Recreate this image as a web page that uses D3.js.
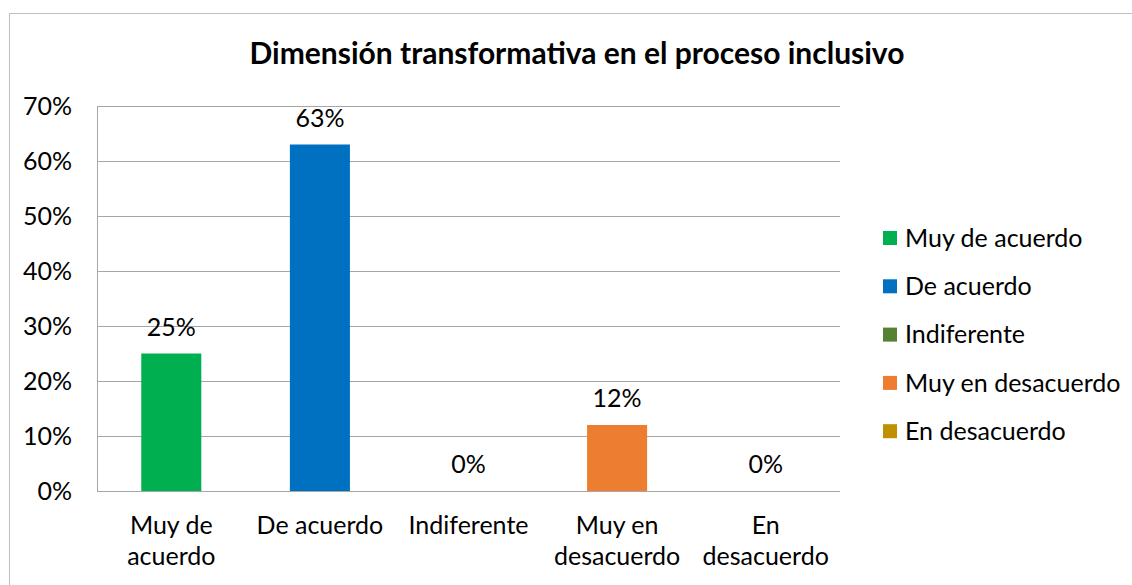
<!doctype html>
<html>
<head>
<meta charset="UTF-8" />
<script src="https://d3js.org/d3.v7.min.js"></script>
<style>
  body { margin: 0; background: #fff; }
  svg text { font-family: Lato, "Open Sans", sans-serif; fill: #000; }
</style>
</head>
<body>
<svg id="chart" width="1132" height="585"></svg>
<script>
  "use strict";

  const categories = [["Muy de", "acuerdo"], ["De acuerdo"], ["Indiferente"], ["Muy en", "desacuerdo"], ["En", "desacuerdo"]];
  const seriesNames = ["Muy de acuerdo", "De acuerdo", "Indiferente", "Muy en desacuerdo", "En desacuerdo"];
  const values = [0.25, 0.63, 0, 0.12, 0];
  const colors = ["#00B050", "#0070C0", "#548235", "#ED7D31", "#BF9000"];
  const yTicks = [0, 0.1, 0.2, 0.3, 0.4, 0.5, 0.6, 0.7];

  const svg = d3.select("#chart");
  const margin = { top: 106, left: 97, right: 292, bottom: 94 };
  const width = 1132 - margin.left - margin.right;
  const height = 585 - margin.top - margin.bottom;

  // outer chart frame
  svg.append("rect")
     .attr("x", 9.5).attr("y", 13.5)
     .attr("width", 1140).attr("height", 600)
     .attr("fill", "none").attr("stroke", "#bfbfbf");

  svg.append("text")
     .attr("x", 577).attr("y", 64)
     .attr("text-anchor", "middle")
     .style("font-size", "30px").style("font-weight", "bold")
     .text("Dimensión transformativa en el proceso inclusivo");

  const g = svg.append("g").attr("transform", `translate(${margin.left},${margin.top})`);

  const x = d3.scaleBand().domain(d3.range(values.length)).range([0, width]);
  const y = d3.scaleLinear().domain([0, 0.7]).range([height, 0]);
  const barW = x.bandwidth() * 0.404;

  // gridlines
  g.append("g")
   .selectAll("line").data(yTicks).enter().append("line")
   .attr("x1", 0).attr("x2", width)
   .attr("y1", d => Math.round(y(d)) + 0.5).attr("y2", d => Math.round(y(d)) + 0.5)
   .attr("stroke", "#a6a6a6").attr("stroke-width", 1);

  // y axis
  const yAxis = g.append("g")
   .call(d3.axisLeft(y).tickValues(yTicks).tickFormat(d3.format(".0%")).tickSize(0).tickPadding(25));
  yAxis.select(".domain").attr("stroke", "#a6a6a6").attr("d", `M0.5,0V${height}`);
  yAxis.selectAll("text").style("font-size", "25px").attr("dy", "0.35em");

  // bars
  g.selectAll(".bar").data(values).enter().append("rect")
   .attr("class", "bar")
   .attr("x", (d, i) => x(i) + (x.bandwidth() - barW) / 2)
   .attr("width", barW)
   .attr("y", d => y(d))
   .attr("height", d => height - y(d))
   .attr("fill", (d, i) => colors[i]);

  // data labels
  g.selectAll(".lbl").data(values).enter().append("text")
   .attr("class", "lbl")
   .attr("x", (d, i) => x(i) + x.bandwidth() / 2)
   .attr("y", d => y(d) - 18)
   .attr("text-anchor", "middle")
   .style("font-size", "25px")
   .text(d => d3.format(".0%")(d));

  // category labels
  const cat = g.selectAll(".cat").data(categories).enter().append("text")
   .attr("class", "cat")
   .attr("text-anchor", "middle")
   .attr("transform", (d, i) => `translate(${x(i) + x.bandwidth() / 2},${height + 43})`)
   .style("font-size", "25px");
  cat.selectAll("tspan").data(d => d).enter().append("tspan")
   .attr("x", 0).attr("y", (d, i) => i * 31)
   .text(d => d);

  // legend
  const leg = svg.append("g").attr("transform", "translate(883,238)");
  const item = leg.selectAll("g").data(seriesNames).enter().append("g")
   .attr("transform", (d, i) => `translate(0,${i * 48.3})`);
  item.append("rect").attr("x", 0).attr("y", -7).attr("width", 14).attr("height", 14)
   .attr("fill", (d, i) => colors[i]);
  item.append("text").attr("x", 22).attr("y", 0).attr("dy", "0.35em")
   .style("font-size", "25px").text(d => d);
</script>
</body>
</html>
